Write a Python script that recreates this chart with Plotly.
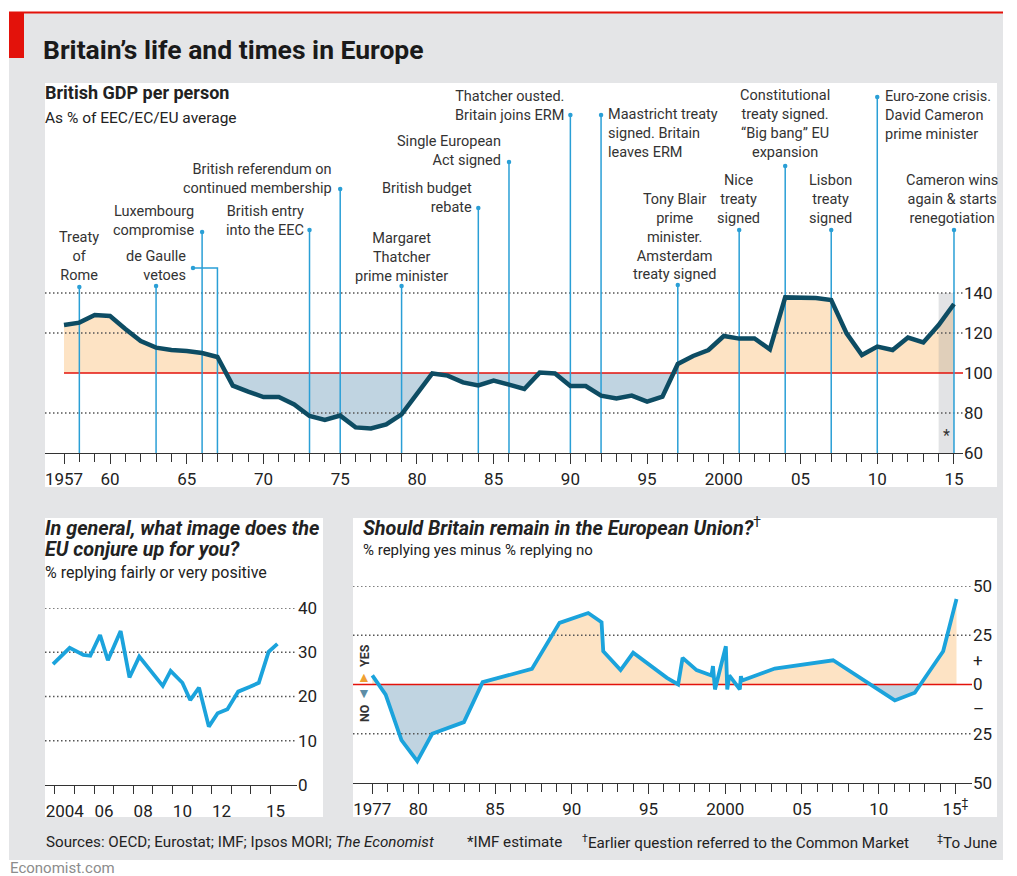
import plotly.graph_objects as go

W, H = 1017, 876
FONT = "Roboto, 'Open Sans', sans-serif"

# ---------------- data ----------------
gdp_years = list(range(1957, 2016))
gdp_pct = [124, 125.2, 129, 128.5, 122, 116, 112.7, 111.5, 111, 110,
           108, 93.7, 90.7, 88, 88, 84.3, 78.5, 76.5, 78.7, 72.8,
           72.3, 74.3, 79.3, 89.5, 99.8, 98.7, 95.3, 93.8, 96.2, 94.2,
           92, 100.2, 99.8, 93.5, 93.5, 88.7, 87.3, 88.7, 85.7, 88.2,
           104.5, 108.5, 111.5, 118.5, 117.2, 117.3, 111.8, 137.8, 137.5, 137.5,
           136.5, 119.8, 109, 113.2, 111.5, 117.7, 115.3, 124, 134.5]
estimate_years = [2014, 2015]

event_years = [1958, 1963, 1966, 1973, 1975, 1979, 1984, 1986,
               1990, 1992, 1997, 2001, 2004, 2007, 2010, 2015]
event_labels = [
    "Treaty<br>of<br>Rome",
    "de Gaulle<br>vetoes",
    "Luxembourg<br>compromise",
    "British entry<br>into the EEC",
    "British referendum on<br>continued membership",
    "Margaret<br>Thatcher<br>prime minister",
    "British budget<br>rebate",
    "Single European<br>Act signed",
    "Thatcher ousted.<br>Britain joins ERM",
    "Maastricht treaty<br>signed. Britain<br>leaves ERM",
    "Tony Blair<br>prime<br>minister.<br>Amsterdam<br>treaty signed",
    "Nice<br>treaty<br>signed",
    "Constitutional<br>treaty signed.<br>\u201cBig bang\u201d EU<br>expansion",
    "Lisbon<br>treaty<br>signed",
    "Euro-zone crisis.<br>David Cameron<br>prime minister",
    "Cameron wins<br>again & starts<br>renegotiation",
]
second_veto_year = 1967

image_t = [2003.9, 2004.75, 2005.45, 2005.8, 2006.3, 2006.7, 2007.35, 2007.8, 2008.3,
           2009.5, 2009.9, 2010.5, 2010.9, 2011.35, 2011.85, 2012.3, 2012.8, 2013.35,
           2013.95, 2014.4, 2014.9, 2015.35]
image_pct = [27.3, 31.0, 29.4, 29.2, 33.9, 28.2, 34.8, 24.3, 29.0,
             22.4, 25.8, 23.1, 19.2, 22.0, 13.2, 16.2, 17.1, 21.1,
             22.2, 23.1, 30.1, 31.9]

remain_t = [1977.0, 1977.87, 1978.9, 1979.93, 1980.9, 1982.97, 1984.19, 1987.4,
            1989.2, 1990.2, 1991.07, 1991.94, 1992.05, 1993.18, 1994.0, 1996.2,
            1996.93, 1997.22, 1998.13, 1999.1, 1999.2, 1999.33, 2000.04, 2000.13,
            2000.26, 2000.95, 2001.02, 2001.1, 2003.23, 2007.03, 2011.05, 2012.35,
            2014.2, 2015.07]
remain_net = [4.6, -5.1, -28.2, -38.9, -25.0, -19.1, 1.2, 7.9,
              31.3, 34.1, 36.3, 31.6, 16.9, 7.3, 16.1, 3.4,
              0.0, 13.5, 7.3, 4.6, 9.3, -2.5, 19.4, -2.5,
              4.6, -2.5, 4.2, 2.0, 8.1, 12.3, -8.1, -4.2,
              16.9, 43.4]

gdp_ticks = [1957, 1960, 1965, 1970, 1975, 1980, 1985, 1990, 1995, 2000, 2005, 2010, 2015]
gdp_ticktext = ["1957", "60", "65", "70", "75", "80", "85", "90", "95", "2000", "05", "10", "15"]
gdp_yticks = [60, 80, 100, 120, 140]

image_ticks = [2004.5, 2006.5, 2008.5, 2010.5, 2012.5, 2015.25]
image_ticktext = ["2004", "06", "08", "10", "12", "15"]
image_yticks = [0, 10, 20, 30, 40]

remain_ticks = [1977, 1980, 1985, 1990, 1995, 2000, 2005, 2010, 2015]
remain_ticktext = ["1977", "80", "85", "90", "95", "2000", "05", "10", "15<sup>\u2021</sup>"]
remain_yticks = [50, 25, 12.5, 0, -12.5, -25, -50]
remain_yticktext = ["50", "25", "+", "0", "\u2013", "25", "50"]

# ---------------- layout helpers ----------------
RED = "#e3120b"
NAVY = "#0d4c63"
SKY = "#1ba3dc"
EVENT = "#2a9fd6"
PEACH = "#fde3c4"
STEEL = "#c0d4e1"
GRID = "#555555"
TXT = "#222222"


def px_x(px):
    return px / W


def px_y(py):
    return 1 - py / H


# panel 1 axis: 60 at y=453px, 2px per point; 1957 at x=64px, 15.345px per year
X1 = [1955.762, 2015.587]
Y1 = [60, 245]
X2 = [2003.49, 2016.35]
Y2 = [0, 40]
X3 = [1975.742, 2016.08]
Y3 = [-50, 50]


def gdp_val(py):
    return 60 + (453 - py) * 0.5


def year1(px):
    return 1957 + (px - 64) / 15.345


def split_fill(xs, ys, base):
    ox, oy = [xs[0]], [ys[0]]
    for i in range(1, len(xs)):
        a, b = ys[i - 1] - base, ys[i] - base
        if a * b < 0:
            t = a / (a - b)
            ox.append(xs[i - 1] + t * (xs[i] - xs[i - 1]))
            oy.append(base)
        ox.append(xs[i])
        oy.append(ys[i])
    pos = [max(v, base) for v in oy]
    neg = [min(v, base) for v in oy]
    return ox, pos, neg


def add_fills(fig, xs, ys, base, xa, ya):
    ox, pos, neg = split_fill(xs, ys, base)
    back = ox[::-1]
    for vals, col in ((pos, PEACH), (neg, STEEL)):
        fig.add_trace(go.Scatter(x=ox + back, y=vals + [base] * len(ox), fill="toself",
                                 fillcolor=col, line=dict(width=0), mode="lines",
                                 xaxis=xa, yaxis=ya, hoverinfo="skip"))


def add_grid(fig, vals, xr, xa, ya):
    for v in vals:
        fig.add_trace(go.Scatter(x=xr, y=[v, v], mode="lines",
                                 line=dict(color=GRID, width=1.3, dash="1.5px,2.5px"),
                                 xaxis=xa, yaxis=ya, hoverinfo="skip"))


fig = go.Figure()

# ---------------- panel 1: GDP ----------------
add_fills(fig, gdp_years, gdp_pct, 100, "x", "y")
e0, e1 = estimate_years[0], estimate_years[-1]
fig.add_trace(go.Scatter(x=[e0, e1, e1, e0, e0], y=[60, 60, 140, 140, 60], fill="toself",
                         fillcolor="rgba(150,155,160,0.28)", line=dict(width=0),
                         mode="lines", hoverinfo="skip"))
add_grid(fig, [80, 120, 140], X1, "x", "y")
fig.add_trace(go.Scatter(x=[gdp_years[0], X1[1]], y=[100, 100], mode="lines",
                         line=dict(color=RED, width=1.6), hoverinfo="skip"))

# label placement: anchor, x shift (px), text centre (px), dot top (px)
ev_layout = [
    ("center", 0, 256, 287), ("right", 32, 266, 286), ("right", -6, 221, 232),
    ("right", -4, 221, 230), ("right", -6, 179, 189), ("center", 0, 257, 286),
    ("right", -4, 197.5, 208), ("right", -6, 150.5, 162), ("right", -4, 106, 115),
    ("left", 5, 133.5, 115), ("center", -3, 237, 285), ("center", -1, 199, 230),
    ("center", 0, 124.5, 166), ("center", -1, 199, 230), ("left", 6, 115.5, 97),
    ("center", -2, 199, 230),
]
dot_x, dot_y = [], []
for yr, (anc, dx, cy, dy) in zip(event_years, ev_layout):
    top = gdp_val(dy)
    fig.add_trace(go.Scatter(x=[yr, yr], y=[60, top], mode="lines",
                             line=dict(color=EVENT, width=1.5), hoverinfo="skip"))
    dot_x.append(yr)
    dot_y.append(top)
# second de Gaulle veto, bracketed to the same label
bx = year1(193)
by = gdp_val(268)
fig.add_trace(go.Scatter(x=[second_veto_year, second_veto_year, bx], y=[60, by, by],
                         mode="lines", line=dict(color=EVENT, width=1.5), hoverinfo="skip"))
dot_x.append(bx)
dot_y.append(by)
fig.add_trace(go.Scatter(x=dot_x, y=dot_y, mode="markers",
                         marker=dict(color=EVENT, size=4.5), hoverinfo="skip"))

fig.add_trace(go.Scatter(x=gdp_years, y=gdp_pct, mode="lines",
                         line=dict(color=NAVY, width=4.5), hoverinfo="skip"))

# ---------------- panel 2: EU image ----------------
add_grid(fig, [10, 20, 30, 40], X2, "x2", "y2")
fig.add_trace(go.Scatter(x=image_t, y=image_pct, mode="lines", xaxis="x2", yaxis="y2",
                         line=dict(color=SKY, width=3.8), hoverinfo="skip"))

# ---------------- panel 3: remain ----------------
add_fills(fig, remain_t, remain_net, 0, "x3", "y3")
add_grid(fig, [50, 25, -25], X3, "x3", "y3")
fig.add_trace(go.Scatter(x=X3, y=[0, 0], mode="lines", xaxis="x3", yaxis="y3",
                         line=dict(color=RED, width=1.6), hoverinfo="skip"))
fig.add_trace(go.Scatter(x=remain_t, y=remain_net, mode="lines", xaxis="x3", yaxis="y3",
                         line=dict(color=SKY, width=3.8), hoverinfo="skip"))

# ---------------- axes ----------------
tickfont = dict(family=FONT, size=17, color=TXT)


def xax(dom, rng, tv, tt, minor_vals, anchor, major_color="#333"):
    return dict(domain=dom, range=rng, tickmode="array", tickvals=tv, ticktext=tt,
                ticks="outside", ticklen=10, tickwidth=1.4, tickcolor=major_color,
                showline=True, linecolor="#333", linewidth=1.4, showgrid=False,
                zeroline=False, tickfont=tickfont, anchor=anchor, fixedrange=True,
                automargin=False,
                minor=dict(tickmode="array", tickvals=minor_vals, ticks="outside",
                           ticklen=8, tickwidth=1.4, tickcolor="#333", showgrid=False))


def yax(dom, rng, tv, tt, anchor):
    return dict(domain=dom, range=rng, tickmode="array", tickvals=tv, ticktext=tt,
                side="right", ticks="", showline=False, showgrid=False, zeroline=False,
                tickfont=tickfont, anchor=anchor, fixedrange=True, automargin=False)


fig.update_layout(
    xaxis=xax([px_x(45), px_x(963)], X1, gdp_ticks, gdp_ticktext, gdp_years, "y"),
    yaxis=yax([px_y(453), px_y(83)], Y1, gdp_yticks, [str(v) for v in gdp_yticks], "x"),
    xaxis2=xax([px_x(45), px_x(297)], X2, image_ticks, image_ticktext,
               list(range(2004, 2016)), "y2", major_color="rgba(0,0,0,0)"),
    yaxis2=yax([px_y(785), px_y(608)], Y2, image_yticks, [str(v) for v in image_yticks], "x2"),
    xaxis3=xax([px_x(353), px_x(972)], X3, remain_ticks, remain_ticktext,
               list(range(1977, 2016)), "y3"),
    yaxis3=yax([px_y(783), px_y(586)], Y3, remain_yticks, remain_yticktext, "x3"),
)

# ---------------- background panels ----------------
shapes = [
    dict(type="rect", xref="paper", yref="paper", x0=px_x(9), x1=px_x(1003),
         y0=px_y(860), y1=px_y(12), fillcolor="#e4e5e7", line_width=0, layer="below"),
    dict(type="rect", xref="paper", yref="paper", x0=px_x(9), x1=px_x(1003),
         y0=px_y(13.5), y1=px_y(11.5), fillcolor=RED, line_width=0, layer="below"),
    dict(type="rect", xref="paper", yref="paper", x0=px_x(9), x1=px_x(24),
         y0=px_y(58), y1=px_y(13), fillcolor=RED, line_width=0, layer="below"),
    dict(type="rect", xref="paper", yref="paper", x0=px_x(45), x1=px_x(997),
         y0=px_y(487), y1=px_y(83), fillcolor="white", line_width=0, layer="below"),
    dict(type="rect", xref="paper", yref="paper", x0=px_x(45), x1=px_x(323),
         y0=px_y(817), y1=px_y(518), fillcolor="white", line_width=0, layer="below"),
    dict(type="rect", xref="paper", yref="paper", x0=px_x(353), x1=px_x(997),
         y0=px_y(817), y1=px_y(518), fillcolor="white", line_width=0, layer="below"),
]

# ---------------- text ----------------
ann = []


def note(text, x, y, size, anchor="left", color=TXT, **kw):
    ann.append(dict(text=text, x=px_x(x), y=px_y(y), xref="paper", yref="paper",
                    xanchor=anchor, yanchor="middle", align=anchor, showarrow=False,
                    font=dict(family=FONT, size=size, color=color), **kw))


note("<b>Britain\u2019s life and times in Europe</b>", 41, 49, 26.5, color="#1a1a1a")
note("<b>British GDP per person</b>", 43, 92, 18)
note("As % of EEC/EC/EU average", 43, 118, 15.5)
note("<b><i>In general, what image does the</i></b>", 43, 528, 19.8)
note("<b><i>EU conjure up for you?</i></b>", 43, 549, 19.8)
note("% replying fairly or very positive", 43, 572, 16)
note("<b><i>Should Britain remain in the European Union?</i></b><sup>\u2020</sup>", 361, 527, 19.8)
note("% replying yes minus % replying no", 361, 550, 15)

note("<b>YES</b>", 364, 656, 12.5, anchor="center", color="#333", textangle=-90)
note("\u25b2", 364, 677, 14, anchor="center", color="#f0a030")
note("\u25bc", 364, 693, 14, anchor="center", color="#5d8da6")
note("<b>NO</b>", 364, 713, 12.5, anchor="center", color="#333", textangle=-90)

note("Sources: OECD; Eurostat; IMF; Ipsos MORI; <i>The Economist</i>", 44, 842, 15.2)
note("*IMF estimate", 465, 842, 15.2)
note("<sup>\u2020</sup>Earlier question referred to the Common Market", 580, 842, 15.2)
note("<sup>\u2021</sup>To June", 999, 842, 15.2, anchor="right")
note("Economist.com", 8, 868, 15, color="#8c8c8c")

for yr, lab, (anc, dx, cy, dy) in zip(event_years, event_labels, ev_layout):
    ann.append(dict(text=lab, x=yr, xref="x", xshift=dx, y=px_y(cy), yref="paper",
                    xanchor=anc, yanchor="middle", align=anc, showarrow=False,
                    font=dict(family=FONT, size=14.5, color="#333")))

ann.append(dict(text="*", x=(estimate_years[0] + estimate_years[-1]) / 2, y=69,
                xref="x", yref="y", showarrow=False,
                font=dict(family=FONT, size=16, color="#333")))

fig.update_layout(
    width=W, height=H, margin=dict(l=0, r=0, t=0, b=0, pad=0, autoexpand=False),
    paper_bgcolor="white", plot_bgcolor="rgba(0,0,0,0)",
    showlegend=False, shapes=shapes, annotations=ann,
    font=dict(family=FONT, color=TXT),
)

# pin the chart to the page corner so the page is exactly the window size
pin = ("document.body.style.margin='0';"
       "document.body.style.overflow='hidden';"
       "var gd=document.getElementById('{plot_id}');"
       "gd.style.position='fixed';gd.style.left='0px';gd.style.top='0px';")
fig.write_html("out.html", config={"displayModeBar": False}, post_script=pin)
